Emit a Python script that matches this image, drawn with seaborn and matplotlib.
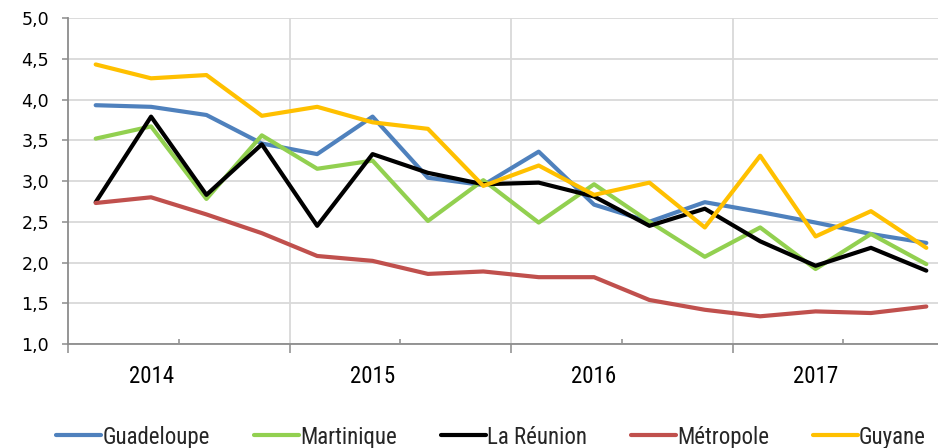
import matplotlib
matplotlib.use("Agg")
import matplotlib.pyplot as plt
from matplotlib import font_manager
from matplotlib.ticker import FixedLocator, FuncFormatter, NullFormatter
import seaborn as sns
import pandas as pd

# Quarterly series, 2014 T1 -> 2017 T4
quarters = [f"{y}T{q}" for y in (2014, 2015, 2016, 2017) for q in (1, 2, 3, 4)]
years = ["2014", "2015", "2016", "2017"]

guadeloupe = [3.93, 3.91, 3.81, 3.46, 3.33, 3.79, 3.04, 2.95, 3.36, 2.71, 2.50, 2.74, 2.62, 2.49, 2.35, 2.24]
martinique = [3.52, 3.67, 2.78, 3.56, 3.15, 3.25, 2.51, 3.01, 2.49, 2.96, 2.50, 2.07, 2.43, 1.92, 2.35, 1.98]
reunion    = [2.74, 3.79, 2.83, 3.45, 2.45, 3.33, 3.10, 2.96, 2.98, 2.81, 2.45, 2.66, 2.26, 1.96, 2.18, 1.90]
metropole  = [2.73, 2.80, 2.59, 2.36, 2.08, 2.02, 1.86, 1.89, 1.82, 1.82, 1.54, 1.42, 1.34, 1.40, 1.38, 1.46]
guyane     = [4.43, 4.26, 4.30, 3.80, 3.91, 3.72, 3.64, 2.94, 3.19, 2.83, 2.98, 2.43, 3.31, 2.32, 2.63, 2.18]

zones = ["Guadeloupe", "Martinique", "La Réunion", "Métropole", "Guyane"]
colors = ["#4F81BD", "#92D050", "#000000", "#C0504D", "#FFC000"]
series = [guadeloupe, martinique, reunion, metropole, guyane]

df = pd.DataFrame(
    [(i, q, z, v) for z, vals in zip(zones, series) for i, (q, v) in enumerate(zip(quarters, vals))],
    columns=["idx", "trimestre", "zone", "valeur"],
)

sns.set_theme(style="white")
plt.rcParams["font.family"] = ["DejaVu Sans"]


def narrow_font():
    """Pick a narrow face for the year labels and legend if one is installed."""
    names = {(f.name, f.stretch) for f in font_manager.fontManager.ttflist}
    for fam in ("Liberation Sans Narrow", "Roboto Condensed", "Open Sans Condensed"):
        if any(n == fam for n, _ in names):
            return {"family": [fam, "DejaVu Sans"], "size": 16.5}
    if ("DejaVu Sans", "condensed") in names:
        return {"family": ["DejaVu Sans"], "stretch": "condensed", "size": 14}
    return {"family": ["DejaVu Sans"], "size": 12.5}


NARROW = narrow_font()

fig = plt.figure(figsize=(9.38, 4.48), dpi=100)
ax = fig.add_axes([68 / 938, 1 - 344 / 448, (954 - 68) / 938, (344 - 18) / 448])

sns.lineplot(data=df, x="idx", y="valeur", hue="zone", hue_order=zones,
             palette=dict(zip(zones, colors)), linewidth=3.0, ax=ax,
             sort=False, clip_on=False)

ax.set_xlim(-0.5, 15.5)
ax.set_ylim(1.0, 5.0)
ax.set_xlabel("")
ax.set_ylabel("")

grid_c = "#D9D9D9"
axis_c = "#8C8C8C"

# horizontal grid every 0.5
ax.yaxis.set_major_locator(FixedLocator([1.0 + 0.5 * k for k in range(9)]))
ax.yaxis.set_major_formatter(FuncFormatter(lambda v, p: f"{v:.1f}".replace(".", ",")))
ax.grid(axis="y", color=grid_c, linewidth=1.3)
# vertical grid at year boundaries
for b in (3.5, 7.5, 11.5):
    ax.axvline(b, color=grid_c, linewidth=1.3, zorder=0)
ax.set_axisbelow(True)

# x ticks: long outer marks at year boundaries, short inner marks mid-year
ax.xaxis.set_major_locator(FixedLocator([-0.5, 3.5, 7.5, 11.5, 15.5]))
ax.xaxis.set_major_formatter(NullFormatter())
ax.xaxis.set_minor_locator(FixedLocator([1.5, 5.5, 9.5, 13.5]))
ax.xaxis.set_minor_formatter(NullFormatter())
ax.tick_params(axis="x", which="major", direction="out", length=6.5, width=1.1,
               color=axis_c, bottom=True)
ax.tick_params(axis="x", which="minor", direction="in", length=3.5, width=1.1,
               color=axis_c, bottom=True)

# year labels sit under the second quarter of each year
for k, yr in enumerate(years):
    ax.text(4 * k + 1, -32 / 326, yr, transform=ax.get_xaxis_transform(),
            ha="center", va="center", color="#000000",
            fontproperties=font_manager.FontProperties(**NARROW))

ax.tick_params(axis="y", which="major", direction="out", length=4.5, width=1.1,
               color=axis_c, left=True, pad=9, labelsize=12.6, labelcolor="#000000")

for s in ("top", "right"):
    ax.spines[s].set_visible(False)
for s in ("left", "bottom"):
    ax.spines[s].set_color(axis_c)
    ax.spines[s].set_linewidth(1.3)

handles, labels = ax.get_legend_handles_labels()
ax.legend_.remove()
em_px = NARROW["size"] * 100 / 72
leg = fig.legend(handles, labels, loc="center", bbox_to_anchor=(491 / 938, 1 - 437 / 448),
                 ncol=5, frameon=False, handlelength=45 / em_px,
                 handletextpad=0.05, columnspacing=44 / em_px,
                 prop=font_manager.FontProperties(**NARROW))
for h in leg.legend_handles:
    h.set_linewidth(3.0)

fig.savefig("out.png", dpi=100)
